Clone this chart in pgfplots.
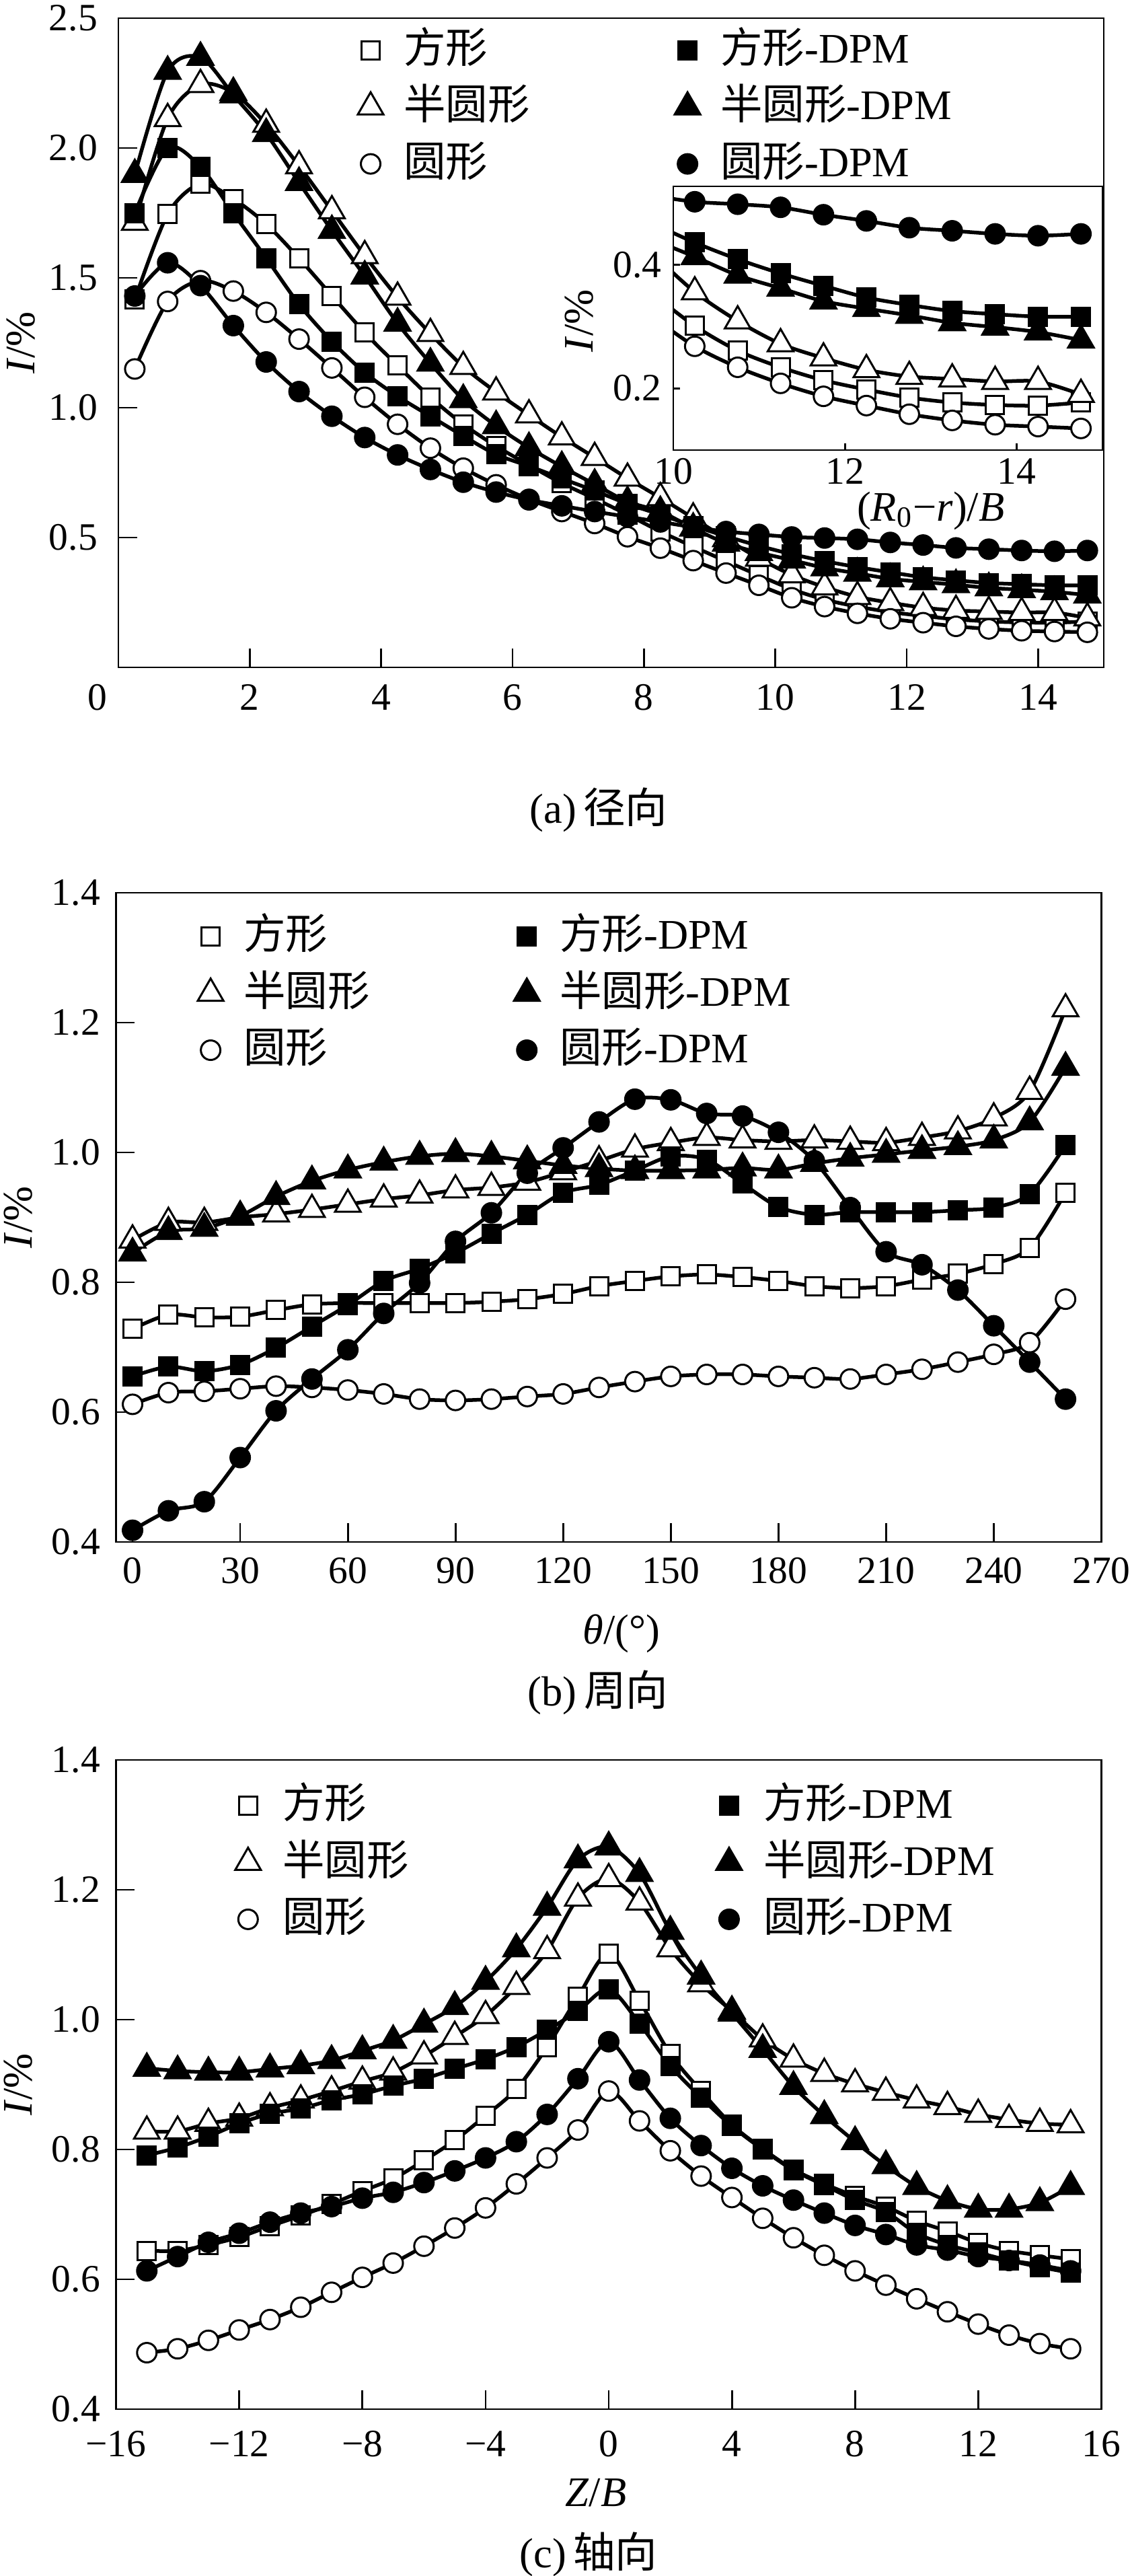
\documentclass[border=0pt]{standalone}
\usepackage{fontspec}
\setmainfont{Liberation Serif}
\newfontfamily\cjk{Noto Sans CJK SC}
\usepackage{pgfplots}
\pgfplotsset{compat=1.18}
\usepackage{pgfplotstable}

\pgfplotstableread{
x     sq     tri    cir    sqD    triD   cirD
0.25  1.416  1.713  1.149  1.749  1.898  1.43
0.75  1.745  2.113  1.409  2.000  2.295  1.558
1.25  1.862  2.244  1.489  1.927  2.349  1.47
1.75  1.804  2.213  1.449  1.749  2.204  1.316
2.25  1.707  2.091  1.367  1.576  2.055  1.176
2.75  1.575  1.931  1.264  1.398  1.867  1.062
3.25  1.431  1.758  1.153  1.255  1.682  0.967
3.75  1.289  1.585  1.040  1.135  1.507  0.885
4.25  1.162  1.425  0.936  1.044  1.325  0.818
4.75  1.040  1.285  0.844  0.967  1.171  0.762
5.25  0.936  1.158  0.767  0.891  1.031  0.713
5.75  0.852  1.060  0.703  0.820  0.930  0.675
6.25  0.779  0.972  0.647  0.775  0.846  0.645
6.75  0.709  0.887  0.600  0.727  0.773  0.622
7.25  0.650  0.808  0.554  0.680  0.705  0.600
7.75  0.588  0.728  0.503  0.630  0.638  0.580
8.25  0.523  0.653  0.459  0.588  0.600  0.560
8.75  0.465  0.575  0.411  0.545  0.536  0.540
9.25  0.409  0.495  0.363  0.505  0.478  0.523
9.75  0.354  0.420  0.316  0.468  0.442  0.512
10.25 0.301  0.356  0.268  0.436  0.413  0.502
10.75 0.261  0.309  0.234  0.409  0.383  0.498
11.25 0.234  0.272  0.208  0.386  0.362  0.493
11.75 0.213  0.249  0.187  0.366  0.341  0.481
12.25 0.198  0.230  0.172  0.347  0.329  0.471
12.75 0.185  0.219  0.158  0.335  0.318  0.460
13.25 0.177  0.215  0.148  0.325  0.306  0.455
13.75 0.173  0.211  0.141  0.320  0.299  0.450
14.25 0.172  0.211  0.138  0.316  0.291  0.447
14.75 0.177  0.190  0.135  0.316  0.278  0.450
}\dataA

\pgfplotstableread{
x    sq     tri    cir    sqD    triD   cirD
0    0.728  0.865  0.612  0.655  0.845  0.418
10   0.750  0.892  0.630  0.670  0.878  0.448
20   0.746  0.892  0.632  0.663  0.883  0.462
30   0.747  0.900  0.636  0.673  0.902  0.530
40   0.757  0.905  0.640  0.699  0.932  0.602
50   0.766  0.912  0.638  0.732  0.956  0.651
60   0.768  0.920  0.634  0.765  0.973  0.696
70   0.768  0.928  0.628  0.802  0.985  0.752
80   0.768  0.934  0.620  0.821  0.994  0.799
90   0.768  0.942  0.618  0.845  0.998  0.863
100  0.770  0.946  0.620  0.875  0.994  0.907
110  0.774  0.954  0.624  0.904  0.987  0.968
120  0.782  0.970  0.628  0.938  0.980  1.007
130  0.794  0.987  0.638  0.950  0.975  1.047
140  0.802  1.005  0.647  0.972  0.972  1.082
150  0.809  1.015  0.655  0.994  0.972  1.081
160  0.812  1.023  0.658  0.989  0.973  1.060
170  0.808  1.019  0.658  0.952  0.976  1.056
180  0.802  1.017  0.655  0.916  0.973  1.031
190  0.794  1.019  0.653  0.904  0.983  0.987
200  0.791  1.017  0.651  0.908  0.991  0.915
210  0.794  1.015  0.658  0.908  0.997  0.847
220  0.804  1.023  0.666  0.908  1.003  0.827
230  0.813  1.033  0.677  0.911  1.009  0.788
240  0.828  1.053  0.689  0.915  1.019  0.733
250  0.853  1.094  0.707  0.936  1.047  0.677
260  0.938  1.221  0.774  1.011  1.131  0.620
}\dataB

\pgfplotstableread{
x   sq    tri   cir   sqD   triD  cirD
-15 0.644 0.828 0.487 0.791 0.925 0.613
-14 0.644 0.828 0.493 0.803 0.921 0.635
-13 0.653 0.840 0.506 0.820 0.919 0.657
-12 0.665 0.848 0.522 0.840 0.919 0.671
-11 0.682 0.864 0.538 0.855 0.924 0.688
-10 0.698 0.876 0.557 0.863 0.929 0.702
-9  0.716 0.890 0.580 0.876 0.937 0.712
-8  0.736 0.905 0.603 0.885 0.952 0.725
-7  0.755 0.919 0.625 0.898 0.968 0.734
-6  0.783 0.944 0.651 0.909 0.993 0.749
-5  0.814 0.974 0.679 0.924 1.020 0.767
-4  0.852 1.006 0.710 0.939 1.059 0.787
-3  0.893 1.051 0.747 0.958 1.109 0.812
-2  0.958 1.106 0.787 0.984 1.173 0.854
-1  1.035 1.187 0.830 1.013 1.246 0.909
0   1.102 1.217 0.890 1.047 1.266 0.966
1   1.029 1.181 0.844 0.994 1.225 0.907
2   0.947 1.109 0.798 0.929 1.136 0.848
3   0.890 1.055 0.759 0.880 1.067 0.806
4   0.838 1.013 0.726 0.836 1.010 0.771
5   0.801 0.970 0.694 0.800 0.954 0.744
6   0.769 0.939 0.664 0.768 0.897 0.722
7   0.747 0.917 0.637 0.745 0.852 0.702
8   0.728 0.901 0.613 0.722 0.812 0.683
9   0.712 0.888 0.591 0.704 0.775 0.669
10  0.690 0.876 0.570 0.671 0.743 0.653
11  0.674 0.866 0.550 0.653 0.721 0.645
12  0.656 0.854 0.531 0.641 0.708 0.635
13  0.644 0.846 0.514 0.629 0.708 0.629
14  0.637 0.840 0.501 0.619 0.718 0.622
15  0.631 0.838 0.493 0.610 0.743 0.613
}\dataC

\pgfplotsset{
  base/.style={
    scale only axis, anchor=south west,
    tick align=inside, tick pos=left,
    axis line style={line width=0.55pt},
    every tick/.style={black, line width=0.55pt},
    /pgf/number format/assume math mode=true,
    tick label style={font=\fontsize{11.5}{13}\selectfont},
    label style={font=\fontsize{12.5}{14}\selectfont},
    every axis plot/.append style={black, line width=1.1pt, smooth},
  },
  main/.style={base, width=293pt, height=193pt, major tick length=5.5pt,
    ylabel style={at={(axis description cs:-0.099,0.5)}, anchor=center},
    legend columns=3, transpose legend, legend cell align=left,
    legend image code/.code={\draw[##1,only marks] plot coordinates {(0pt,0pt)};},
  },
  lg/.style n args={4}{legend style={draw=none, fill=none, inner sep=0pt, outer sep=0pt,
      at={(axis description cs:#1,#2)}, anchor=north west,
      row sep=4.4pt, font=\fontsize{12.5}{14}\selectfont,
      nodes={inner sep=0pt, text height=10pt, text depth=2.5pt},
      /tikz/every odd column/.style={column sep=#3},
      /tikz/every even column/.style={column sep=#4}}},
  yfix/.style={yticklabel style={/pgf/number format/.cd, fixed, fixed zerofill, precision=1, /tikz/.cd}},
  sqO/.style={mark=square*, mark size=2.7pt, mark options={fill=white, draw=black, line width=0.6pt, solid}},
  triO/.style={mark=triangle*, mark size=4.4pt, mark options={fill=white, draw=black, line width=0.6pt, solid}},
  cirO/.style={mark=*, mark size=2.9pt, mark options={fill=white, draw=black, line width=0.6pt, solid}},
  sqF/.style={mark=square*, mark size=2.7pt, mark options={fill=black, draw=black, line width=0.6pt, solid}},
  triF/.style={mark=triangle*, mark size=4.4pt, mark options={fill=black, draw=black, line width=0.6pt, solid}},
  cirF/.style={mark=*, mark size=2.9pt, mark options={fill=black, draw=black, line width=0.6pt, solid}},
}

\begin{document}
\begin{tikzpicture}
\useasboundingbox (0,0) rectangle (335.8pt,765.8pt);

% ---------------- (a) radial
\begin{axis}[main, yfix, at={(35.2pt,567.4pt)},
  xmin=0, xmax=15, ymin=0, ymax=2.5,
  xtick={0,2,4,6,8,10,12,14},
  xticklabels={\makebox[0pt][r]{0\hspace{3.4pt}},2,4,6,8,10,12,14},
  ytick={0.5,1.0,1.5,2.0,2.5},
  yticklabel style={xshift=-2.7pt},
  xticklabel style={yshift=-1.6pt},
  ylabel={\textit{I}/\%},
  lg={0.243}{0.983}{6pt}{43.1pt}]
\addplot[sqO]  table[x=x,y=sq]{\dataA};   \addlegendentry{{\cjk 方形}}
\addplot[triO] table[x=x,y=tri]{\dataA};  \addlegendentry{{\cjk 半圆形}}
\addplot[cirO] table[x=x,y=cir]{\dataA};  \addlegendentry{{\cjk 圆形}}
\addplot[sqF]  table[x=x,y=sqD]{\dataA};  \addlegendentry{{\cjk 方形}-DPM}
\addplot[triF] table[x=x,y=triD]{\dataA}; \addlegendentry{{\cjk 半圆形}-DPM}
\addplot[cirF] table[x=x,y=cirD]{\dataA}; \addlegendentry{{\cjk 圆形}-DPM}
\end{axis}

% inset
\begin{axis}[base, yfix, at={(200.2pt,632pt)}, width=127.6pt, height=78.4pt,
  major tick length=2pt,
  axis background/.style={fill=white},
  xmin=10, xmax=15, ymin=0.1, ymax=0.527,
  xtick={10,12,14}, ytick={0.2,0.4},
  xticklabel style={yshift=1pt},
  restrict x to domain=9:15,
  ylabel={\textit{I}/\%},
  ylabel style={at={(axis description cs:-0.219,0.49)}, anchor=center},
  xlabel={(\textit{R}\textsubscript{0}−\textit{r})/\textit{B}},
  xlabel style={at={(axis description cs:0.6,-0.23)}, anchor=center}]
\addplot[sqO]  table[x=x,y=sq]{\dataA};
\addplot[triO] table[x=x,y=tri]{\dataA};
\addplot[cirO] table[x=x,y=cir]{\dataA};
\addplot[sqF]  table[x=x,y=sqD]{\dataA};
\addplot[triF] table[x=x,y=triD]{\dataA};
\addplot[cirF] table[x=x,y=cirD]{\dataA};
\end{axis}

% ---------------- (b) circumferential
\begin{axis}[main, yfix, at={(34.5pt,307.4pt)},
  xmin=-4.6, xmax=270, ymin=0.4, ymax=1.4,
  xtick={0,30,...,270}, ytick={0.4,0.6,...,1.4},
  yticklabel style={xshift=-1.2pt},
  xticklabel style={yshift=-1.2pt},
  ylabel={\textit{I}/\%},
  xlabel={\textit{θ}/(°)},
  xlabel style={at={(axis description cs:0.513,-0.141)}, anchor=center},
  lg={0.083}{0.965}{6pt}{42.9pt}]
\addplot[sqO]  table[x=x,y=sq]{\dataB};   \addlegendentry{{\cjk 方形}}
\addplot[triO] table[x=x,y=tri]{\dataB};  \addlegendentry{{\cjk 半圆形}}
\addplot[cirO] table[x=x,y=cir]{\dataB};  \addlegendentry{{\cjk 圆形}}
\addplot[sqF]  table[x=x,y=sqD]{\dataB};  \addlegendentry{{\cjk 方形}-DPM}
\addplot[triF] table[x=x,y=triD]{\dataB}; \addlegendentry{{\cjk 半圆形}-DPM}
\addplot[cirF] table[x=x,y=cirD]{\dataB}; \addlegendentry{{\cjk 圆形}-DPM}
\end{axis}

% ---------------- (c) axial
\begin{axis}[main, yfix, at={(34.5pt,49.6pt)},
  xmin=-16, xmax=16, ymin=0.4, ymax=1.4,
  xtick={-16,-12,-8,-4,0,4,8,12,16},
  xticklabels={\mbox{−16},\mbox{−12},\mbox{−8},\mbox{−4},\mbox{0},\mbox{4},\mbox{8},\mbox{12},\mbox{16}},
  ytick={0.4,0.6,...,1.4},
  yticklabel style={xshift=-1.2pt},
  xticklabel style={yshift=-3pt},
  ylabel={\textit{I}/\%},
  xlabel={\textit{Z}/\textit{B}},
  xlabel style={at={(axis description cs:0.487,-0.1285)}, anchor=center},
  lg={0.121}{0.962}{6.5pt}{91.4pt}]
\addplot[sqO]  table[x=x,y=sq]{\dataC};   \addlegendentry{{\cjk 方形}}
\addplot[triO] table[x=x,y=tri]{\dataC};  \addlegendentry{{\cjk 半圆形}}
\addplot[cirO] table[x=x,y=cir]{\dataC};  \addlegendentry{{\cjk 圆形}}
\addplot[sqF]  table[x=x,y=sqD]{\dataC};  \addlegendentry{{\cjk 方形}-DPM}
\addplot[triF] table[x=x,y=triD]{\dataC}; \addlegendentry{{\cjk 半圆形}-DPM}
\addplot[cirF] table[x=x,y=cirD]{\dataC}; \addlegendentry{{\cjk 圆形}-DPM}
\end{axis}

% captions
\node[font=\fontsize{12.5}{14}\selectfont] at (178pt,525pt) {(a)\,{\cjk 径向}};
\node[font=\fontsize{12.5}{14}\selectfont] at (177.8pt,262.6pt) {(b)\,{\cjk 周向}};
\node[font=\fontsize{12.5}{14}\selectfont] at (175pt,6.5pt) {(c)\,{\cjk 轴向}};
\end{tikzpicture}
\end{document}
